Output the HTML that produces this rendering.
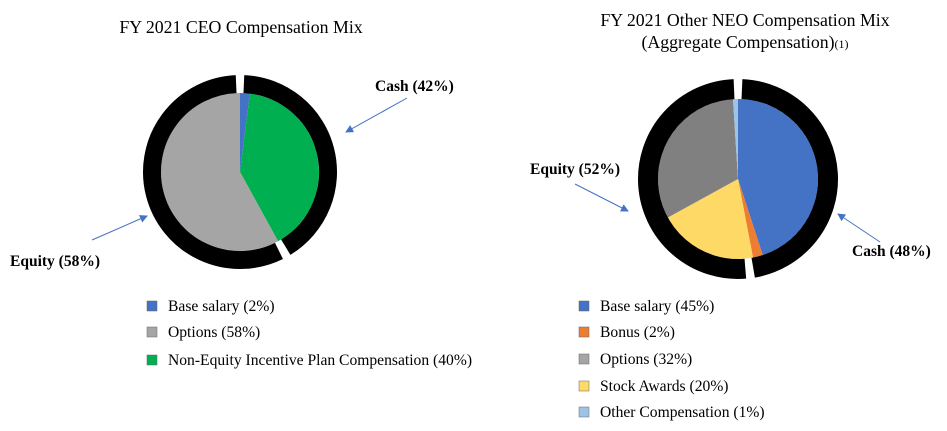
<!DOCTYPE html>
<html><head><meta charset="utf-8"><style>
body{margin:0;background:#fff;}
svg{display:block;font-family:"Liberation Serif",serif;}
</style></head><body>
<svg width="947" height="431" viewBox="0 0 947 431">
<defs><marker id="ah" markerWidth="8" markerHeight="8" refX="7" refY="4" orient="auto"><path d="M0,0 L8,4 L0,8 z" fill="#4472C4"/></marker></defs>
<text x="241" y="33" text-anchor="middle" font-size="17.8">FY 2021 CEO Compensation Mix</text>
<text x="745" y="26" text-anchor="middle" font-size="17.8">FY 2021 Other NEO Compensation Mix</text>
<text x="745" y="48" text-anchor="middle" font-size="17.8">(Aggregate Compensation)<tspan font-size="12">(1)</tspan></text>
<g id="ceo"></g>
<g id="neo"></g>
<text x="375" y="91" font-size="15.5" font-weight="bold">Cash (42%)</text>
<line x1="407" y1="98" x2="346" y2="132" stroke="#4472C4" stroke-width="1" marker-end="url(#ah)"/>
<text x="10" y="266" font-size="15.5" font-weight="bold">Equity (58%)</text>
<line x1="92" y1="240" x2="147" y2="216" stroke="#4472C4" stroke-width="1" marker-end="url(#ah)"/>
<text x="530" y="174" font-size="15.5" font-weight="bold">Equity (52%)</text>
<line x1="575" y1="184" x2="628" y2="211" stroke="#4472C4" stroke-width="1" marker-end="url(#ah)"/>
<text x="852" y="256" font-size="15.5" font-weight="bold">Cash (48%)</text>
<line x1="880" y1="242" x2="838" y2="214" stroke="#4472C4" stroke-width="1" marker-end="url(#ah)"/>
<g id="leg"></g>
</svg>
<script>
const ceoLabels=["Base salary (2%)","Options (58%)","Non-Equity Incentive Plan Compensation (40%)"];
const ceoValues=[2,58,40];
const ceoColors=["#4472C4","#A5A5A5","#00B050"];
const ceoRingValues=[42,58];
const neoLabels=["Base salary (45%)","Bonus (2%)","Options (32%)","Stock Awards (20%)","Other Compensation (1%)"];
const neoValues=[45,2,32,20,1];
const neoSliceOrder=[0,1,3,2,4];
const neoColors=["#4472C4","#ED7D31","#808080","#FFD966","#9DC3E6"];
const neoLegendColors=["#4472C4","#ED7D31","#A5A5A5","#FFD966","#9DC3E6"];
const neoRingValues=[48,52];
const NS="http://www.w3.org/2000/svg";
function pt(cx,cy,r,f){const a=f*2*Math.PI;return [cx+r*Math.sin(a),cy-r*Math.cos(a)];}
function slice(g,cx,cy,r,f0,f1,fill,name){
  const p=document.createElementNS(NS,"path");
  const [x0,y0]=pt(cx,cy,r,f0),[x1,y1]=pt(cx,cy,r,f1);
  const large=(f1-f0)>0.5?1:0;
  p.setAttribute("d",`M${cx},${cy} L${x0},${y0} A${r},${r} 0 ${large} 1 ${x1},${y1} Z`);
  p.setAttribute("fill",fill);
  
  
  g.appendChild(p);
}
function arc(g,cx,cy,r,f0,f1,w,name){
  const p=document.createElementNS(NS,"path");
  const gap=0.014;
  const [x0,y0]=pt(cx,cy,r,f0+gap/2),[x1,y1]=pt(cx,cy,r,f1-gap/2);
  const large=(f1-f0)>0.5?1:0;
  p.setAttribute("d",`M${x0},${y0} A${r},${r} 0 ${large} 1 ${x1},${y1}`);
  p.setAttribute("fill","none");p.setAttribute("stroke","#000");p.setAttribute("stroke-width",w);
  
  
  g.appendChild(p);
}
function pie(id,cx,cy,r,vals,order,cols,labels,ring,rr,rw,pfx){
  const g=document.getElementById(id);
  const tot=vals.reduce((a,b)=>a+b,0);let c=0;
  order.forEach(i=>{slice(g,cx,cy,r,c/tot,(c+vals[i])/tot,cols[i],pfx+"-slice-"+i);c+=vals[i];});
  const rt=ring.reduce((a,b)=>a+b,0);c=0;
  ring.forEach((v,i)=>{arc(g,cx,cy,rr,c/rt,(c+v)/rt,rw,pfx+"-ring-"+i);c+=v;});
}
pie("ceo",240,172,79,ceoValues,[0,2,1],ceoColors,ceoLabels,ceoRingValues,88,18,"ceo");
pie("neo",738,179,80,neoValues,neoSliceOrder,neoColors,neoLabels,neoRingValues,90,20,"neo");
const leg=document.getElementById("leg");
function legend(x,ys,labels,cols,pfx){
  labels.forEach((l,i)=>{
    const r=document.createElementNS(NS,"rect");
    r.setAttribute("x",x);r.setAttribute("y",ys[i]-5);r.setAttribute("width",10);r.setAttribute("height",10);
    r.setAttribute("fill",cols[i]);r.setAttribute("stroke","#666");r.setAttribute("stroke-width","0.5");
    
    
    leg.appendChild(r);
    const t=document.createElementNS(NS,"text");
    t.setAttribute("x",x+21);t.setAttribute("y",ys[i]+5);t.setAttribute("font-size","15.6");t.textContent=l;
    
    
    leg.appendChild(t);
  });
}
legend(147,[306,332,360],ceoLabels,ceoColors,"ceo");
legend(579,[306,332,359,386,412],neoLabels,neoLegendColors,"neo");
</script>
</body></html>
